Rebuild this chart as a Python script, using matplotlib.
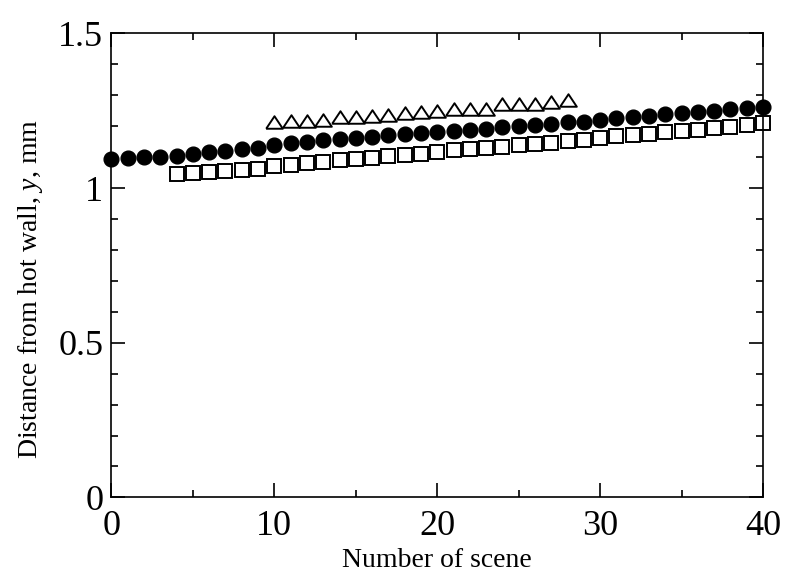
import matplotlib
matplotlib.use('Agg')
import matplotlib.pyplot as plt
from matplotlib.ticker import MultipleLocator

# Scene numbers and measured distances (mm)
scene_circle = list(range(0, 41))
y_circle = [1.094, 1.096, 1.099, 1.101, 1.105, 1.111, 1.115, 1.120, 1.125, 1.131,
            1.139, 1.145, 1.150, 1.154, 1.157, 1.161, 1.165, 1.170, 1.174, 1.177,
            1.181, 1.184, 1.188, 1.192, 1.196, 1.200, 1.204, 1.208, 1.212, 1.215,
            1.220, 1.225, 1.230, 1.234, 1.238, 1.242, 1.246, 1.250, 1.254, 1.258,
            1.263]

scene_square = list(range(4, 41))
y_square = [1.046, 1.048, 1.051, 1.056, 1.058, 1.062, 1.070, 1.075, 1.080, 1.085,
            1.090, 1.094, 1.098, 1.102, 1.106, 1.110, 1.118, 1.123, 1.127, 1.131,
            1.134, 1.138, 1.142, 1.147, 1.151, 1.155, 1.162, 1.167, 1.172, 1.176,
            1.180, 1.184, 1.189, 1.193, 1.198, 1.203, 1.211]

scene_tri = list(range(10, 29))
y_tri = [1.212, 1.216, 1.218, 1.220, 1.229, 1.231, 1.233, 1.237, 1.242, 1.246,
         1.250, 1.256, 1.256, 1.256, 1.271, 1.271, 1.273, 1.277, 1.286]

xticks = [0, 10, 20, 30, 40]
yticks = [0, 0.5, 1, 1.5]
ytick_labels = ['0', '0.5', '1', '1.5']

plt.rcParams['font.family'] = ['Liberation Serif', 'DejaVu Serif']
plt.rcParams['mathtext.fontset'] = 'custom'
plt.rcParams['mathtext.it'] = 'Liberation Serif:italic'
plt.rcParams['mathtext.rm'] = 'Liberation Serif'

fig = plt.figure(figsize=(7.85, 5.75), dpi=100)
ax = fig.add_axes([0.142, 0.135, 0.830, 0.807])

# wide, flat open triangle
tri = [(-1, -0.75), (1, -0.75), (0, 0.75), (-1, -0.75)]

ax.plot(scene_tri, y_tri, linestyle='none', marker=tri, markersize=12,
        markerfacecolor='white', markeredgecolor='black', markeredgewidth=1.4)
ax.plot(scene_circle, y_circle, linestyle='none', marker='o', markersize=10.6,
        markerfacecolor='black', markeredgecolor='black', clip_on=False)
ax.plot(scene_square, y_square, linestyle='none', marker='s', markersize=9.4,
        markerfacecolor='white', markeredgecolor='black', markeredgewidth=1.4,
        clip_on=False)

ax.set_xlim(0, 40)
ax.set_ylim(0, 1.5)
ax.set_xticks(xticks)
ax.set_yticks(yticks)
ax.set_yticklabels(ytick_labels)
ax.xaxis.set_minor_locator(MultipleLocator(5))
ax.yaxis.set_minor_locator(MultipleLocator(0.1))

ax.tick_params(which='both', direction='in', top=True, right=True,
               width=1.2, labelsize=26)
ax.tick_params(which='major', length=10)
ax.tick_params(which='minor', length=5)
ax.tick_params(axis='x', pad=9)
ax.tick_params(axis='y', pad=6)
for s in ax.spines.values():
    s.set_linewidth(1.2)

ax.set_xlabel('Number of scene', fontsize=20)
ax.set_ylabel('Distance from hot wall, $y$, mm', fontsize=20)
ax.xaxis.set_label_coords(0.5, -0.11)
ax.yaxis.set_label_coords(-0.102, 0.45)

fig.savefig('out.png', dpi=100)
